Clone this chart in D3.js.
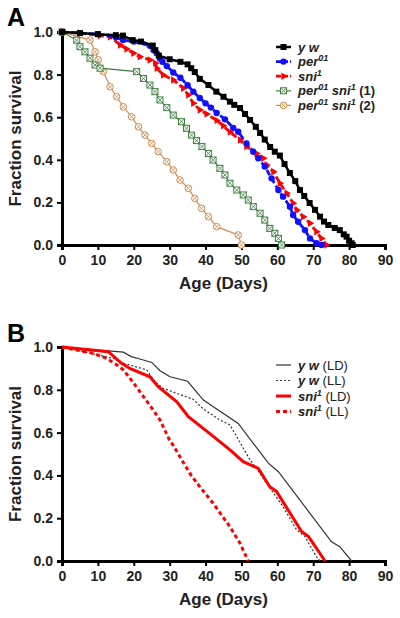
<!DOCTYPE html>
<html><head><meta charset="utf-8">
<script src="https://cdn.jsdelivr.net/npm/d3@7"></script>
<style>body{margin:0;background:#fff}svg{display:block}text{font-family:Arial,"Liberation Sans",sans-serif}</style>
</head><body>
<svg id="c" width="400" height="618"></svg>
<script>
// ---------- DATA ----------
const xTicks = [0,10,20,30,40,50,60,70,80,90];
const yTicks = [0.0,0.2,0.4,0.6,0.8,1.0];

// Panel A
const ywA = [[0,1],[5,0.995],[10,0.99],[15,0.985],[17,0.983],[19.7,0.962],[22,0.955],[25.3,0.936],[26,0.915],[27,0.889],[30,0.872],[33,0.86],[35,0.848],[36,0.83],[37,0.812],[38.4,0.78],[40.8,0.751],[43,0.72],[45,0.696],[46.8,0.673],[48,0.658],[49.6,0.643],[51,0.615],[52.4,0.587],[54,0.555],[55.2,0.526],[56.5,0.495],[58,0.46],[59.3,0.438],[60.7,0.42],[62,0.38],[63.5,0.338],[65,0.3],[66.3,0.258],[67.5,0.23],[69,0.197],[70.5,0.165],[71.9,0.133],[73,0.11],[74.2,0.094],[76,0.08],[77.4,0.07],[78.5,0.05],[79.3,0.039],[80,0.02],[80.7,0.008],[81,0]];
const perA = [[0,1],[10,0.99],[15,0.975],[17,0.962],[20,0.955],[24.5,0.935],[25.5,0.915],[26.4,0.9],[27.3,0.875],[28,0.86],[29.2,0.84],[31,0.81],[33,0.785],[35,0.75],[36.6,0.72],[38.4,0.69],[40,0.665],[41.5,0.645],[43.1,0.62],[45.4,0.59],[47.7,0.55],[49.1,0.532],[51.4,0.477],[53.3,0.438],[54.7,0.407],[56.5,0.368],[58.4,0.313],[60.3,0.258],[61.6,0.227],[63.5,0.18],[64.4,0.141],[65.8,0.109],[67.7,0.07],[69.1,0.031],[70.9,0.008],[72.3,0]];
const sniA = [[0,1],[5,0.995],[10.6,0.983],[13.4,0.978],[16.2,0.939],[18,0.92],[19.9,0.9],[21.7,0.884],[24.5,0.869],[26,0.853],[26.4,0.83],[28.2,0.798],[31,0.775],[33.8,0.736],[35.2,0.704],[36.6,0.665],[38.4,0.634],[40.3,0.615],[43.1,0.585],[44.9,0.56],[46.8,0.53],[49.6,0.493],[51.4,0.462],[54.2,0.43],[56.1,0.407],[57,0.376],[58.9,0.344],[60.7,0.29],[62.6,0.243],[64.4,0.196],[65.4,0.164],[67.2,0.133],[69.1,0.102],[70.9,0.062],[72.3,0.031],[73.7,0]];
const dbl1A = [[0,1],[4.1,0.962],[5,0.931],[6.4,0.907],[7.8,0.877],[9.2,0.845],[10.6,0.83],[20.8,0.814],[22.7,0.782],[24.5,0.751],[25.9,0.72],[27.3,0.681],[29.2,0.645],[31,0.61],[33.3,0.579],[34.7,0.548],[36.1,0.516],[37.5,0.49],[39,0.462],[40.8,0.43],[42.1,0.399],[44,0.36],[45.4,0.329],[46.8,0.29],[48.7,0.258],[50.5,0.235],[51.9,0.211],[53.3,0.18],[55.2,0.149],[56.5,0.117],[57.9,0.078],[59.3,0.055],[60.3,0.031],[61.2,0]];
const dbl2A = [[0,1],[7.8,0.962],[9.2,0.907],[10.1,0.869],[11.5,0.814],[13.4,0.743],[15.2,0.696],[17.1,0.649],[19.4,0.602],[21.3,0.555],[23.1,0.516],[25,0.477],[26.8,0.438],[29.2,0.391],[31,0.352],[32.9,0.305],[35.2,0.266],[37,0.219],[38.9,0.172],[40.8,0.133],[43.1,0.086],[49.1,0.047],[50,0]];

// Panel B
const ywLD = [[0,1],[17.1,0.976],[19.3,0.955],[21.7,0.944],[25,0.928],[27.3,0.889],[30.1,0.861],[35,0.84],[39.4,0.752],[43.1,0.71],[49.1,0.643],[57.5,0.457],[60.3,0.417],[75.1,0.09],[77.4,0.067],[80.7,0]];
const ywLL = [[0,1],[14.3,0.947],[16.6,0.927],[23.6,0.893],[25.9,0.838],[28.2,0.807],[36.6,0.755],[39.4,0.71],[44,0.659],[46.8,0.636],[52.4,0.472],[54.2,0.433],[57,0.363],[61.6,0.254],[65.4,0.145],[67.7,0.114],[70.9,0.02],[71.9,0]];
const sniLD = [[0,1],[12.9,0.978],[16.6,0.924],[18.9,0.9],[24.5,0.861],[26.8,0.815],[32,0.744],[35.2,0.674],[41.2,0.595],[46.8,0.519],[50.5,0.464],[54.7,0.433],[57.9,0.347],[59.8,0.324],[66.8,0.137],[68.7,0.114],[73.3,0]];
const sniLL = [[0,1],[8.7,0.97],[12.4,0.947],[15.3,0.916],[17.1,0.893],[20,0.83],[22.7,0.768],[25.4,0.706],[27.3,0.659],[30.1,0.56],[31,0.54],[33.8,0.46],[36,0.4],[38.4,0.347],[42.1,0.27],[46.8,0.16],[49.6,0.083],[51.9,0]];

// ---------- DRAW ----------
const svg = d3.select("#c");
const X0 = 62, X1 = 385;

function panel(top, bottom, letter, letterY){
  const x = d3.scaleLinear().domain([0,90]).range([X0,X1]);
  const y = d3.scaleLinear().domain([0,1]).range([bottom,top]);
  const g = svg.append("g");
  const xa = g.append("g").attr("transform",`translate(0,${bottom})`)
    .call(d3.axisBottom(x).tickValues(xTicks).tickSize(5).tickPadding(5).tickFormat(d3.format("d")));
  const ya = g.append("g").attr("transform",`translate(${X0},0)`)
    .call(d3.axisLeft(y).tickValues(yTicks).tickSize(5).tickPadding(4).tickFormat(d3.format(".1f")));
  [xa,ya].forEach(a=>{
    a.select(".domain").attr("stroke","#000").attr("stroke-width",3);
    a.selectAll(".tick line").attr("stroke","#000").attr("stroke-width",2);
    a.selectAll(".tick text").attr("font-size",14).attr("font-weight","bold").attr("fill","#222")
      .attr("font-family","Arial, 'Liberation Sans', sans-serif");
  });
  g.append("text").attr("x",7).attr("y",letterY).attr("font-size",25).attr("font-weight","bold").text(letter);
  g.append("text").attr("transform",`translate(21,${(top+bottom)/2}) rotate(-90)`)
    .attr("text-anchor","middle").attr("font-size",17).attr("font-weight","bold").attr("fill","#222").text("Fraction survival");
  g.append("text").attr("x",(X0+X1)/2).attr("y",bottom+44).attr("text-anchor","middle")
    .attr("font-size",17).attr("font-weight","bold").attr("fill","#222").text("Age (Days)");
  return {x,y,g};
}

const line = (x,y)=>d3.line().x(d=>x(d[0])).y(d=>y(d[1]));

// marker drawers
function mk(sel, type, color){
  if(type==="square") sel.append("rect").attr("x",-3).attr("y",-3).attr("width",6).attr("height",6).attr("fill",color);
  if(type==="circle") sel.append("circle").attr("r",3.2).attr("fill",color);
  if(type==="tri") sel.append("path").attr("d",d3.symbol(d3.symbolTriangle,24)()).attr("transform","rotate(90)").attr("fill",color);
  if(type==="osquare"){
    sel.append("rect").attr("x",-3).attr("y",-3).attr("width",6).attr("height",6).attr("fill","#fff").attr("stroke",color).attr("stroke-width",1);
    sel.append("path").attr("d","M-3,-3L3,3M-3,3L3,-3").attr("stroke",color).attr("stroke-width",0.8);
  }
  if(type==="ocircle"){
    sel.append("circle").attr("r",3.3).attr("fill","#fff").attr("stroke",color).attr("stroke-width",1);
    sel.append("path").attr("d","M-2.3,-2.3L2.3,2.3M-2.3,2.3L2.3,-2.3").attr("stroke",color).attr("stroke-width",0.8);
  }
}

// Panel A
const A = panel(32, 245, "A", 26);
const seriesA = [
  {data:dbl2A, color:"#d08a50", w:1.2, dash:null, m:"ocircle"},
  {data:dbl1A, color:"#3f7f3f", w:1.2, dash:null, m:"osquare"},
  {data:sniA, color:"#ff0000", w:2.8, dash:"6,3", m:"tri"},
  {data:perA, color:"#1010ff", w:2.8, dash:"6,3", m:"circle"},
  {data:ywA, color:"#000000", w:2.5, dash:null, m:"square"}
];
seriesA.forEach(s=>{
  A.g.append("path").datum(s.data).attr("d",line(A.x,A.y)).attr("fill","none")
    .attr("stroke",s.color).attr("stroke-width",s.w).attr("stroke-dasharray",s.dash);
  A.g.selectAll(null).data(s.data).enter().append("g")
    .attr("transform",d=>`translate(${A.x(d[0])},${A.y(d[1])})`)
    .each(function(){ mk(d3.select(this), s.m, s.color); });
});

// Legend A
const legA = [
  {color:"#000", w:2.5, dash:null, m:"square", parts:[["y w",1]]},
  {color:"#1010ff", w:2.8, dash:"5,2", m:"circle", parts:[["per",1],["01",2]]},
  {color:"#ff0000", w:2.8, dash:"5,2", m:"tri", parts:[["sni",1],["1",2]]},
  {color:"#3f7f3f", w:1.2, dash:null, m:"osquare", parts:[["per",1],["01",2],[" sni",1],["1",2],[" (1)",0]]},
  {color:"#d08a50", w:1.2, dash:null, m:"ocircle", parts:[["per",1],["01",2],[" sni",1],["1",2],[" (2)",0]]}
];
function legend(items, y0, dy, boldPlain){
  items.forEach((it,i)=>{
    const yy = y0 + i*dy;
    svg.append("line").attr("x1",276).attr("x2",291).attr("y1",yy).attr("y2",yy)
      .attr("stroke",it.color).attr("stroke-width",it.w).attr("stroke-dasharray",it.dash);
    if(it.m){ const gg = svg.append("g").attr("transform",`translate(283.5,${yy})`); mk(gg,it.m,it.color); }
    const t = svg.append("text").attr("x",298).attr("y",yy+4.5).attr("font-size",13).attr("fill","#222");
    let sup=false;
    it.parts.forEach(p=>{
      const ts = t.append("tspan").text(p[0]);
      if(p[1]===2){ ts.attr("font-size",9).attr("dy",-5).attr("font-style","italic").attr("font-weight","bold"); sup=true; }
      else {
        if(sup){ ts.attr("dy",5); sup=false; }
        if(p[1]===1) ts.attr("font-style","italic").attr("font-weight","bold");
        else ts.attr("font-weight", boldPlain?"bold":"normal");
      }
    });
  });
}
legend(legA, 47, 14.6, true);

// Panel B
const B = panel(347, 561, "B", 342);
const seriesB = [
  {data:ywLD, color:"#333", w:1.2, dash:null},
  {data:ywLL, color:"#333", w:1.2, dash:"2,2"},
  {data:sniLL, color:"#ff0000", w:3, dash:"4,3"},
  {data:sniLD, color:"#ff0000", w:3, dash:null}
];
seriesB.forEach(s=>{
  B.g.append("path").datum(s.data).attr("d",line(B.x,B.y)).attr("fill","none")
    .attr("stroke",s.color).attr("stroke-width",s.w).attr("stroke-dasharray",s.dash);
});
const legB = [
  {color:"#333", w:1.2, dash:null, parts:[["y w",1],[" (LD)",0]]},
  {color:"#333", w:1.2, dash:"2,2", parts:[["y w",1],[" (LL)",0]]},
  {color:"#ff0000", w:3, dash:null, parts:[["sni",1],["1",2],[" (LD)",0]]},
  {color:"#ff0000", w:3, dash:"4,3", parts:[["sni",1],["1",2],[" (LL)",0]]}
];
legend(legB, 365, 15.5, false);
</script>
</body></html>
